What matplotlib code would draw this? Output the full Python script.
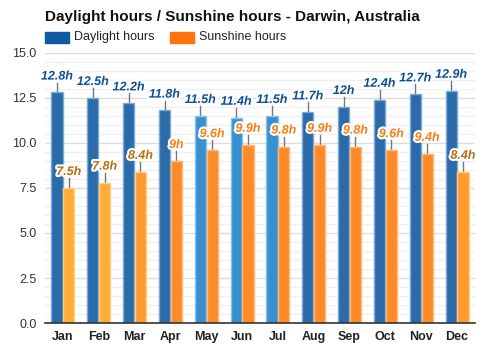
import numpy as np
import matplotlib.pyplot as plt
import matplotlib.patheffects as pe
from matplotlib.patches import Rectangle

months = ["Jan", "Feb", "Mar", "Apr", "May", "Jun",
          "Jul", "Aug", "Sep", "Oct", "Nov", "Dec"]
daylight = [12.8, 12.5, 12.2, 11.8, 11.5, 11.4, 11.5, 11.7, 12.0, 12.4, 12.7, 12.9]
sunshine = [7.5, 7.8, 8.4, 9.0, 9.6, 9.9, 9.8, 9.9, 9.8, 9.6, 9.4, 8.4]
daylight_labels = ["12.8h", "12.5h", "12.2h", "11.8h", "11.5h", "11.4h",
                   "11.5h", "11.7h", "12h", "12.4h", "12.7h", "12.9h"]
sunshine_labels = ["7.5h", "7.8h", "8.4h", "9h", "9.6h", "9.9h",
                   "9.8h", "9.9h", "9.8h", "9.6h", "9.4h", "8.4h"]

plt.rcParams['font.family'] = ['Liberation Sans', 'DejaVu Sans']

fig = plt.figure(figsize=(5, 3.5), dpi=100)
ax = fig.add_axes([0.09, 0.077, 0.86, 0.772])

x = np.arange(len(months))
w = 0.31

# shorter days get the lighter blue, less sunshine gets the yellow-orange
day_fill = ['#3a8fd0' if d < 11.6 else '#2b6ba9' for d in daylight]
day_edge = ['#8cc0ea' if d < 11.6 else '#7aa9d6' for d in daylight]
sun_fill = ['#ffad33' if s < 8.0 else ('#ff9a2e' if s < 8.5 else '#ff8a2a') for s in sunshine]
sun_edge = ['#ffcf80' if s < 8.5 else '#ffb877' for s in sunshine]

ax.bar(x - w / 2 - 0.01, daylight, w, color=day_fill, edgecolor=day_edge, linewidth=1, zorder=3)
ax.bar(x + w / 2 + 0.01, sunshine, w, color=sun_fill, edgecolor=sun_edge, linewidth=1, zorder=3)

stroke = [pe.withStroke(linewidth=3, foreground='white')]
for i in x:
    xd = i - w / 2 - 0.01
    ax.plot([xd, xd], [daylight[i], daylight[i] + 0.55], color='#777777', lw=1, zorder=2)
    ax.text(xd, daylight[i] + 0.55, daylight_labels[i], ha='center', va='bottom',
            fontsize=9, fontweight='bold', style='italic', color='#0d4f95',
            path_effects=stroke, zorder=5)
    xs = i + w / 2 + 0.01
    ax.plot([xs, xs], [sunshine[i], sunshine[i] + 0.55], color='#777777', lw=1, zorder=2)
    c = '#b8700e' if sunshine[i] < 8.5 else '#f77d14'
    ax.text(xs, sunshine[i] + 0.55, sunshine_labels[i], ha='center', va='bottom',
            fontsize=9, fontweight='bold', style='italic', color=c,
            path_effects=stroke, zorder=5)

ax.set_xlim(-0.5, 11.5)
ax.set_ylim(0, 15)
ax.set_yticks(np.arange(0, 15.1, 2.5))
ax.set_yticklabels([f"{v:.1f}" for v in np.arange(0, 15.1, 2.5)], fontsize=9, color='#333333')
ax.set_yticks(np.arange(0, 15.1, 0.5), minor=True)
ax.set_xticks(x)
ax.set_xticklabels(months, fontsize=9, fontweight='bold', color='#222222')
ax.tick_params(axis='both', length=0, which='both', pad=6)
ax.grid(axis='y', which='major', color='#dddddd', lw=1, zorder=0)
ax.grid(axis='y', which='minor', color='#f0f0f0', lw=1, zorder=0)
for s in ['top', 'right', 'left']:
    ax.spines[s].set_visible(False)
ax.spines['bottom'].set_color('#333333')
ax.spines['bottom'].set_linewidth(1.2)
ax.spines['bottom'].set_zorder(4)

fig.text(0.09, 0.952, "Daylight hours / Sunshine hours - Darwin, Australia",
         fontsize=11, fontweight='bold', va='center', color='#111111')

# legend swatches
fig.add_artist(Rectangle((0.09, 0.877), 0.048, 0.032, transform=fig.transFigure,
                         color='#0f5aa3'))
fig.text(0.148, 0.893, "Daylight hours", fontsize=9, va='center', color='#222222')
fig.add_artist(Rectangle((0.34, 0.877), 0.048, 0.032, transform=fig.transFigure,
                         color='#ff7410'))
fig.text(0.398, 0.893, "Sunshine hours", fontsize=9, va='center', color='#222222')

fig.savefig('out.png', dpi=100)
